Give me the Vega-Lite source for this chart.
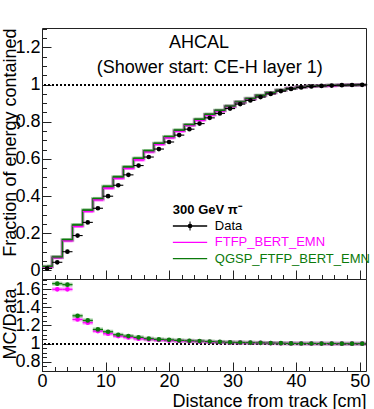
{
  "$schema": "https://vega.github.io/schema/vega-lite/v6.json",
  "padding": {"left": 0, "top": 27, "right": 9, "bottom": 0},
  "spacing": 0,
  "bounds": "flush",
  "background": "white",
  "config": {
    "font": "Liberation Sans",
    "view": {"stroke": "#222222", "strokeWidth": 1},
    "axis": {"domain": false, "grid": false, "tickColor": "#222222", "tickWidth": 1, "labelColor": "#000000", "titleColor": "#000000", "labelFontSize": 18, "titleFontSize": 18, "titleFontWeight": "normal", "labelOverlap": false, "labelFlush": false}
  },
  "resolve": {"scale": {"color": "independent"}},
  "datasets": {
    "bins": [
      {"x": 0.8, "lo": 0.0, "hi": 1.6, "data": 0.010, "FTFP_BERT_EMN": 0.019, "QGSP_FTFP_BERT_EMN": 0.021, "ratio_FTFP": 1.9, "ratio_QGSP": 2.1},
      {"x": 2.4, "lo": 1.6, "hi": 3.2, "data": 0.043, "FTFP_BERT_EMN": 0.0687, "QGSP_FTFP_BERT_EMN": 0.0713, "ratio_FTFP": 1.597, "ratio_QGSP": 1.659},
      {"x": 4.0, "lo": 3.2, "hi": 4.8, "data": 0.100, "FTFP_BERT_EMN": 0.1597, "QGSP_FTFP_BERT_EMN": 0.1648, "ratio_FTFP": 1.597, "ratio_QGSP": 1.648},
      {"x": 5.6, "lo": 4.8, "hi": 6.4, "data": 0.187, "FTFP_BERT_EMN": 0.2367, "QGSP_FTFP_BERT_EMN": 0.2442, "ratio_FTFP": 1.266, "ratio_QGSP": 1.306},
      {"x": 7.2, "lo": 6.4, "hi": 8.0, "data": 0.258, "FTFP_BERT_EMN": 0.3173, "QGSP_FTFP_BERT_EMN": 0.3238, "ratio_FTFP": 1.230, "ratio_QGSP": 1.255},
      {"x": 8.8, "lo": 8.0, "hi": 9.6, "data": 0.334, "FTFP_BERT_EMN": 0.3801, "QGSP_FTFP_BERT_EMN": 0.3861, "ratio_FTFP": 1.138, "ratio_QGSP": 1.156},
      {"x": 10.4, "lo": 9.6, "hi": 11.2, "data": 0.399, "FTFP_BERT_EMN": 0.4425, "QGSP_FTFP_BERT_EMN": 0.4513, "ratio_FTFP": 1.109, "ratio_QGSP": 1.131},
      {"x": 12.0, "lo": 11.2, "hi": 12.8, "data": 0.458, "FTFP_BERT_EMN": 0.4960, "QGSP_FTFP_BERT_EMN": 0.5029, "ratio_FTFP": 1.083, "ratio_QGSP": 1.098},
      {"x": 13.6, "lo": 12.8, "hi": 14.4, "data": 0.514, "FTFP_BERT_EMN": 0.5495, "QGSP_FTFP_BERT_EMN": 0.5567, "ratio_FTFP": 1.069, "ratio_QGSP": 1.083},
      {"x": 15.2, "lo": 14.4, "hi": 16.0, "data": 0.564, "FTFP_BERT_EMN": 0.5950, "QGSP_FTFP_BERT_EMN": 0.6029, "ratio_FTFP": 1.055, "ratio_QGSP": 1.069},
      {"x": 16.8, "lo": 16.0, "hi": 17.6, "data": 0.610, "FTFP_BERT_EMN": 0.6387, "QGSP_FTFP_BERT_EMN": 0.6436, "ratio_FTFP": 1.047, "ratio_QGSP": 1.055},
      {"x": 18.4, "lo": 17.6, "hi": 19.2, "data": 0.653, "FTFP_BERT_EMN": 0.6791, "QGSP_FTFP_BERT_EMN": 0.6837, "ratio_FTFP": 1.040, "ratio_QGSP": 1.047},
      {"x": 20.0, "lo": 19.2, "hi": 20.8, "data": 0.691, "FTFP_BERT_EMN": 0.7145, "QGSP_FTFP_BERT_EMN": 0.7200, "ratio_FTFP": 1.034, "ratio_QGSP": 1.042},
      {"x": 21.6, "lo": 20.8, "hi": 22.4, "data": 0.728, "FTFP_BERT_EMN": 0.7498, "QGSP_FTFP_BERT_EMN": 0.7542, "ratio_FTFP": 1.030, "ratio_QGSP": 1.036},
      {"x": 23.2, "lo": 22.4, "hi": 24.0, "data": 0.760, "FTFP_BERT_EMN": 0.7805, "QGSP_FTFP_BERT_EMN": 0.7843, "ratio_FTFP": 1.027, "ratio_QGSP": 1.032},
      {"x": 24.8, "lo": 24.0, "hi": 25.6, "data": 0.790, "FTFP_BERT_EMN": 0.8090, "QGSP_FTFP_BERT_EMN": 0.8129, "ratio_FTFP": 1.024, "ratio_QGSP": 1.029},
      {"x": 26.4, "lo": 25.6, "hi": 27.2, "data": 0.821, "FTFP_BERT_EMN": 0.8366, "QGSP_FTFP_BERT_EMN": 0.8399, "ratio_FTFP": 1.019, "ratio_QGSP": 1.023},
      {"x": 28.0, "lo": 27.2, "hi": 28.8, "data": 0.845, "FTFP_BERT_EMN": 0.8585, "QGSP_FTFP_BERT_EMN": 0.8611, "ratio_FTFP": 1.016, "ratio_QGSP": 1.019},
      {"x": 29.6, "lo": 28.8, "hi": 30.4, "data": 0.871, "FTFP_BERT_EMN": 0.8823, "QGSP_FTFP_BERT_EMN": 0.8841, "ratio_FTFP": 1.013, "ratio_QGSP": 1.015},
      {"x": 31.2, "lo": 30.4, "hi": 32.0, "data": 0.895, "FTFP_BERT_EMN": 0.9048, "QGSP_FTFP_BERT_EMN": 0.9066, "ratio_FTFP": 1.011, "ratio_QGSP": 1.013},
      {"x": 32.8, "lo": 32.0, "hi": 33.6, "data": 0.915, "FTFP_BERT_EMN": 0.9232, "QGSP_FTFP_BERT_EMN": 0.9251, "ratio_FTFP": 1.009, "ratio_QGSP": 1.011},
      {"x": 34.4, "lo": 33.6, "hi": 35.2, "data": 0.933, "FTFP_BERT_EMN": 0.9405, "QGSP_FTFP_BERT_EMN": 0.9414, "ratio_FTFP": 1.008, "ratio_QGSP": 1.009},
      {"x": 36.0, "lo": 35.2, "hi": 36.8, "data": 0.950, "FTFP_BERT_EMN": 0.9557, "QGSP_FTFP_BERT_EMN": 0.9567, "ratio_FTFP": 1.006, "ratio_QGSP": 1.007},
      {"x": 37.6, "lo": 36.8, "hi": 38.4, "data": 0.965, "FTFP_BERT_EMN": 0.9689, "QGSP_FTFP_BERT_EMN": 0.9698, "ratio_FTFP": 1.004, "ratio_QGSP": 1.005},
      {"x": 39.2, "lo": 38.4, "hi": 40.0, "data": 0.977, "FTFP_BERT_EMN": 0.9799, "QGSP_FTFP_BERT_EMN": 0.9799, "ratio_FTFP": 1.003, "ratio_QGSP": 1.003},
      {"x": 40.8, "lo": 40.0, "hi": 41.6, "data": 0.985, "FTFP_BERT_EMN": 0.9870, "QGSP_FTFP_BERT_EMN": 0.9870, "ratio_FTFP": 1.002, "ratio_QGSP": 1.002},
      {"x": 42.4, "lo": 41.6, "hi": 43.2, "data": 0.990, "FTFP_BERT_EMN": 0.9910, "QGSP_FTFP_BERT_EMN": 0.9920, "ratio_FTFP": 1.001, "ratio_QGSP": 1.002},
      {"x": 44.0, "lo": 43.2, "hi": 44.8, "data": 0.993, "FTFP_BERT_EMN": 0.9940, "QGSP_FTFP_BERT_EMN": 0.9940, "ratio_FTFP": 1.001, "ratio_QGSP": 1.001},
      {"x": 45.6, "lo": 44.8, "hi": 46.4, "data": 0.995, "FTFP_BERT_EMN": 0.9950, "QGSP_FTFP_BERT_EMN": 0.9960, "ratio_FTFP": 1.000, "ratio_QGSP": 1.001},
      {"x": 47.2, "lo": 46.4, "hi": 48.0, "data": 0.997, "FTFP_BERT_EMN": 0.9970, "QGSP_FTFP_BERT_EMN": 0.9970, "ratio_FTFP": 1.000, "ratio_QGSP": 1.000},
      {"x": 48.8, "lo": 48.0, "hi": 49.6, "data": 0.998, "FTFP_BERT_EMN": 0.9980, "QGSP_FTFP_BERT_EMN": 0.9980, "ratio_FTFP": 1.000, "ratio_QGSP": 1.000},
      {"x": 50.4, "lo": 49.6, "hi": 51.2, "data": 0.999, "FTFP_BERT_EMN": 0.9990, "QGSP_FTFP_BERT_EMN": 0.9990, "ratio_FTFP": 1.000, "ratio_QGSP": 1.000}
    ],
    "legend": [
      {"series": "Data"},
      {"series": "FTFP_BERT_EMN"},
      {"series": "QGSP_FTFP_BERT_EMN"}
    ]
  },
  "vconcat": [
    {
      "width": 324,
      "height": 251,
      "data": {"name": "bins"},
      "resolve": {"scale": {"y": "independent"}, "axis": {"x": "independent", "y": "independent"}},
      "layer": [
        {
          "mark": {"type": "rule", "color": "black", "strokeWidth": 1.3, "strokeDash": [2, 2]},
          "encoding": {
            "y": {"datum": 1, "type": "quantitative", "scale": {"domain": [-0.047, 1.305], "nice": false, "zero": false}, "axis": null}
          }
        },
        {
          "transform": [{"fold": ["FTFP_BERT_EMN", "QGSP_FTFP_BERT_EMN"], "as": ["series", "mc"]}],
          "mark": {"type": "line", "interpolate": "step", "strokeWidth": 3.4, "opacity": 0.35, "clip": true},
          "encoding": {
            "x": {"field": "x", "type": "quantitative", "scale": {"domain": [0, 51], "nice": false, "zero": false}, "axis": null},
            "y": {"field": "mc", "type": "quantitative", "scale": {"domain": [-0.047, 1.305], "nice": false, "zero": false}, "axis": null},
            "color": {"field": "series", "type": "nominal", "scale": {"domain": ["Data", "FTFP_BERT_EMN", "QGSP_FTFP_BERT_EMN"], "range": ["#000000", "#ff00ff", "#0b7a0b"]}, "legend": null}
          }
        },
        {
          "transform": [{"fold": ["FTFP_BERT_EMN", "QGSP_FTFP_BERT_EMN"], "as": ["series", "mc"]}],
          "mark": {"type": "rule", "strokeWidth": 3.4, "opacity": 0.35, "clip": true},
          "encoding": {
            "x": {"field": "lo", "type": "quantitative", "scale": {"domain": [0, 51], "nice": false, "zero": false}, "axis": null},
            "x2": {"field": "hi"},
            "y": {"field": "mc", "type": "quantitative", "scale": {"domain": [-0.047, 1.305], "nice": false, "zero": false}, "axis": null},
            "color": {"field": "series", "type": "nominal", "legend": null}
          }
        },
        {
          "transform": [{"fold": ["FTFP_BERT_EMN", "QGSP_FTFP_BERT_EMN"], "as": ["series", "mc"]}],
          "mark": {"type": "line", "interpolate": "step", "strokeWidth": 1.3, "clip": true},
          "encoding": {
            "x": {"field": "x", "type": "quantitative", "scale": {"domain": [0, 51], "nice": false, "zero": false}, "axis": null},
            "y": {"field": "mc", "type": "quantitative", "scale": {"domain": [-0.047, 1.305], "nice": false, "zero": false}, "axis": null},
            "color": {"field": "series", "type": "nominal", "legend": null}
          }
        },
        {
          "transform": [{"fold": ["FTFP_BERT_EMN", "QGSP_FTFP_BERT_EMN"], "as": ["series", "mc"]}],
          "mark": {"type": "rule", "strokeWidth": 1.3, "clip": true},
          "encoding": {
            "x": {"field": "lo", "type": "quantitative", "scale": {"domain": [0, 51], "nice": false, "zero": false}, "axis": null},
            "x2": {"field": "hi"},
            "y": {"field": "mc", "type": "quantitative", "scale": {"domain": [-0.047, 1.305], "nice": false, "zero": false}, "axis": null},
            "color": {"field": "series", "type": "nominal", "legend": null}
          }
        },
        {
          "mark": {"type": "rule", "color": "black", "strokeWidth": 1.1},
          "encoding": {
            "x": {"field": "lo", "type": "quantitative", "scale": {"domain": [0, 51], "nice": false, "zero": false},
                  "axis": {"orient": "bottom", "values": [0, 2, 4, 6, 8, 10, 12, 14, 16, 18, 20, 22, 24, 26, 28, 30, 32, 34, 36, 38, 40, 42, 44, 46, 48, 50], "tickSize": -4.5, "labels": false, "title": null}},
            "x2": {"field": "hi"},
            "y": {"field": "data", "type": "quantitative", "scale": {"domain": [-0.047, 1.305], "nice": false, "zero": false},
                  "axis": {"orient": "left", "values": [0, 0.05, 0.1, 0.15, 0.2, 0.25, 0.3, 0.35, 0.4, 0.45, 0.5, 0.55, 0.6, 0.65, 0.7, 0.75, 0.8, 0.85, 0.9, 0.95, 1, 1.05, 1.1, 1.15, 1.2, 1.25, 1.3], "tickSize": -4.5, "labels": false, "title": null}}
          }
        },
        {
          "mark": {"type": "point", "filled": true, "color": "black", "opacity": 1, "size": 22},
          "encoding": {
            "x": {"field": "x", "type": "quantitative", "scale": {"domain": [0, 51], "nice": false, "zero": false},
                  "axis": {"orient": "bottom", "values": [0, 10, 20, 30, 40, 50], "tickSize": -9, "labels": false, "title": null}},
            "y": {"field": "data", "type": "quantitative", "scale": {"domain": [-0.047, 1.305], "nice": false, "zero": false},
                  "axis": {"orient": "left", "values": [0, 0.2, 0.4, 0.6, 0.8, 1, 1.2], "format": "~g", "tickSize": -9, "labelPadding": 11,
                           "title": "Fraction of energy contained", "titleAngle": -90, "titleAlign": "right", "titleBaseline": "alphabetic", "titleX": -26.5, "titleY": 0}}
          }
        },
        {
          "data": {"values": [{"t": "AHCAL"}]},
          "mark": {"type": "text", "fontSize": 18, "align": "center", "baseline": "alphabetic", "color": "black"},
          "encoding": {
            "x": {"datum": 24.7, "type": "quantitative", "scale": {"domain": [0, 51], "nice": false, "zero": false}, "axis": null},
            "y": {"datum": 1.195, "type": "quantitative", "scale": {"domain": [-0.047, 1.305], "nice": false, "zero": false}, "axis": null},
            "text": {"field": "t"}
          }
        },
        {
          "data": {"values": [{"t": "(Shower start: CE-H layer 1)"}]},
          "mark": {"type": "text", "fontSize": 18, "align": "center", "baseline": "alphabetic", "color": "black"},
          "encoding": {
            "x": {"datum": 26.4, "type": "quantitative", "scale": {"domain": [0, 51], "nice": false, "zero": false}, "axis": null},
            "y": {"datum": 1.061, "type": "quantitative", "scale": {"domain": [-0.047, 1.305], "nice": false, "zero": false}, "axis": null},
            "text": {"field": "t"}
          }
        },
        {
          "data": {"values": [{"t": "300 GeV π⁻"}]},
          "mark": {"type": "text", "fontSize": 13, "fontWeight": "bold", "align": "left", "baseline": "alphabetic", "color": "black"},
          "encoding": {
            "x": {"datum": 20.6, "type": "quantitative", "scale": {"domain": [0, 51], "nice": false, "zero": false}, "axis": null},
            "y": {"datum": 0.304, "type": "quantitative", "scale": {"domain": [-0.047, 1.305], "nice": false, "zero": false}, "axis": null},
            "text": {"field": "t"}
          }
        },
        {
          "data": {"name": "legend"},
          "mark": {"type": "rule", "strokeWidth": 1.3},
          "encoding": {
            "x": {"datum": 20.6, "type": "quantitative", "scale": {"domain": [0, 51], "nice": false, "zero": false}, "axis": null},
            "x2": {"datum": 26.0},
            "y": {"field": "series", "type": "nominal", "scale": {"type": "point", "domain": ["Data", "FTFP_BERT_EMN", "QGSP_FTFP_BERT_EMN"], "range": [198, 230.7], "padding": 0}, "axis": null},
            "color": {"field": "series", "type": "nominal", "legend": null}
          }
        },
        {
          "data": {"name": "legend"},
          "mark": {"type": "text", "fontSize": 13, "align": "left", "baseline": "middle"},
          "encoding": {
            "x": {"datum": 27.2, "type": "quantitative", "scale": {"domain": [0, 51], "nice": false, "zero": false}, "axis": null},
            "y": {"field": "series", "type": "nominal", "scale": {"type": "point", "domain": ["Data", "FTFP_BERT_EMN", "QGSP_FTFP_BERT_EMN"], "range": [198, 230.7], "padding": 0}, "axis": null},
            "text": {"field": "series"},
            "color": {"field": "series", "type": "nominal", "legend": null}
          }
        },
        {
          "data": {"name": "legend"},
          "transform": [{"filter": "datum.series == 'Data'"}],
          "mark": {"type": "point", "filled": true, "color": "black", "opacity": 1, "size": 22},
          "encoding": {
            "x": {"datum": 23.3, "type": "quantitative", "scale": {"domain": [0, 51], "nice": false, "zero": false}, "axis": null},
            "y": {"field": "series", "type": "nominal", "scale": {"type": "point", "domain": ["Data", "FTFP_BERT_EMN", "QGSP_FTFP_BERT_EMN"], "range": [198, 230.7], "padding": 0}, "axis": null}
          }
        },
        {
          "data": {"name": "legend"},
          "transform": [{"filter": "datum.series == 'Data'"}],
          "mark": {"type": "tick", "orient": "vertical", "color": "black", "opacity": 1, "size": 9, "thickness": 1},
          "encoding": {
            "x": {"datum": 23.3, "type": "quantitative", "scale": {"domain": [0, 51], "nice": false, "zero": false}, "axis": null},
            "y": {"field": "series", "type": "nominal", "scale": {"type": "point", "domain": ["Data", "FTFP_BERT_EMN", "QGSP_FTFP_BERT_EMN"], "range": [198, 230.7], "padding": 0}, "axis": null}
          }
        }
      ]
    },
    {
      "width": 324,
      "height": 92,
      "data": {"name": "bins"},
      "resolve": {"axis": {"x": "independent", "y": "independent"}},
      "layer": [
        {
          "mark": {"type": "rule", "color": "black", "strokeWidth": 1.3, "strokeDash": [2, 2]},
          "encoding": {
            "y": {"datum": 1, "type": "quantitative", "scale": {"domain": [0.7, 1.71], "nice": false, "zero": false}, "axis": null}
          }
        },
        {
          "transform": [{"fold": ["ratio_FTFP", "ratio_QGSP"], "as": ["series", "ratio"]}],
          "mark": {"type": "rule", "strokeWidth": 4, "opacity": 0.35, "clip": true},
          "encoding": {
            "x": {"field": "lo", "type": "quantitative", "scale": {"domain": [0, 51], "nice": false, "zero": false}, "axis": null},
            "x2": {"field": "hi"},
            "y": {"field": "ratio", "type": "quantitative", "scale": {"domain": [0.7, 1.71], "nice": false, "zero": false}, "axis": null},
            "color": {"field": "series", "type": "nominal", "scale": {"domain": ["ratio_FTFP", "ratio_QGSP"], "range": ["#ff00ff", "#0b7a0b"]}, "legend": null}
          }
        },
        {
          "transform": [{"fold": ["ratio_FTFP", "ratio_QGSP"], "as": ["series", "ratio"]}],
          "mark": {"type": "rule", "strokeWidth": 1.2, "clip": true},
          "encoding": {
            "x": {"field": "lo", "type": "quantitative", "scale": {"domain": [0, 51], "nice": false, "zero": false},
                  "axis": {"orient": "bottom", "values": [0, 2, 4, 6, 8, 10, 12, 14, 16, 18, 20, 22, 24, 26, 28, 30, 32, 34, 36, 38, 40, 42, 44, 46, 48, 50], "tickSize": -4.5, "labels": false, "title": null}},
            "x2": {"field": "hi"},
            "y": {"field": "ratio", "type": "quantitative", "scale": {"domain": [0.7, 1.71], "nice": false, "zero": false},
                  "axis": {"orient": "left", "values": [0.7, 0.75, 0.8, 0.85, 0.9, 0.95, 1, 1.05, 1.1, 1.15, 1.2, 1.25, 1.3, 1.35, 1.4, 1.45, 1.5, 1.55, 1.6, 1.65, 1.7], "tickSize": -4.5, "labels": false, "title": null}},
            "color": {"field": "series", "type": "nominal", "legend": null}
          }
        },
        {
          "transform": [{"fold": ["ratio_FTFP", "ratio_QGSP"], "as": ["series", "ratio"]}],
          "mark": {"type": "point", "filled": true, "opacity": 1, "size": 22, "clip": true},
          "encoding": {
            "x": {"field": "x", "type": "quantitative", "scale": {"domain": [0, 51], "nice": false, "zero": false},
                  "axis": {"orient": "bottom", "values": [0, 10, 20, 30, 40, 50], "tickSize": -9, "labelPadding": 10,
                           "title": "Distance from track [cm]", "titleAlign": "right", "titleAnchor": "end", "titleBaseline": "alphabetic", "titleX": 324, "titleY": 35}},
            "y": {"field": "ratio", "type": "quantitative", "scale": {"domain": [0.7, 1.71], "nice": false, "zero": false},
                  "axis": {"orient": "left", "values": [0.8, 1, 1.2, 1.4, 1.6], "format": "~g", "tickSize": -9, "labelPadding": 11,
                           "title": "MC/Data", "titleAngle": -90, "titleAlign": "center", "titleBaseline": "alphabetic", "titleX": -26.5, "titleY": 44.5}},
            "color": {"field": "series", "type": "nominal", "legend": null}
          }
        }
      ]
    }
  ]
}
